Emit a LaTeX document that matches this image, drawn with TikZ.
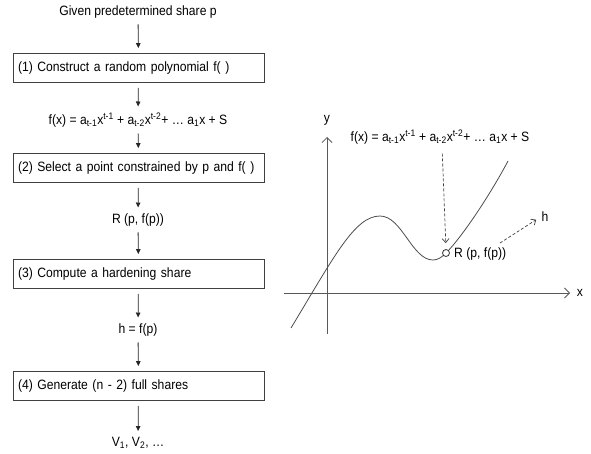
\documentclass[tikz,border=0pt]{standalone}
\usepackage{fontspec}
\setmainfont{Liberation Sans}[FakeStretch=0.9]
\usetikzlibrary{arrows.meta}
\newcommand{\fxtext}{f(x) = a\textsubscript{t-1}x\textsuperscript{t-1} + a\textsubscript{t-2}x\textsuperscript{t-2}+ \dots\ a\textsubscript{1}x + S}
\begin{document}
\begin{tikzpicture}[x=1pt,y=-1pt,font=\fontsize{13.5}{15}\selectfont,
  stepbox/.style={draw=black!75,line width=0.8pt,text width=241pt,inner xsep=5pt,
    minimum height=29pt,align=left},
  txt/.style={inner sep=1pt},
  flow/.style={draw=black!85,line width=0.8pt,shorten <=5pt,shorten >=5pt,
    -{Triangle[length=5pt,width=4.5pt]}},
  hint/.style={draw=black!75,line width=0.7pt,dash pattern=on 3pt off 2pt,
    -{Straight Barb[length=4pt,width=7pt]}},
  axis/.style={draw=black!65,line width=0.8pt,-{Straight Barb[length=5pt,width=10pt]}}]
  \useasboundingbox (0,0) rectangle (591,453);
  \node[txt] (given) at (138,12) {Given predetermined share p};
  \foreach \y/\n/\t in {68/box1/{(1) Construct a random polynomial f( )},
      168/box2/{(2) Select a point constrained by p and f( )},
      274/box3/{(3) Compute a hardening share},
      386/box4/{(4) Generate (n - 2) full shares}}
    \node[stepbox] (\n) at (138.5,\y) {\t};
  \node[txt] (fxl) at (138,120) {\fxtext};
  \node[txt] (Rl) at (138,220) {R (p, f(p))};
  \node[txt] (hl) at (138,330) {h = f(p)};
  \node[txt] (Vl) at (138,443) {V\textsubscript{1}, V\textsubscript{2}, \dots};
  \foreach \a/\b in {given/box1,box1/fxl,fxl/box2,box2/Rl,Rl/box3,box3/hl,hl/box4,box4/Vl}
    \draw[flow] (\a) -- (\b);
  \draw[axis] (327,334) -- (327,137);
  \draw[axis] (284,293) -- (570,293);
  \node[txt] (ylbl) at (327,120) {y};
  \node[txt] (xlbl) at (580,293) {x};
  \node[txt] (fxr) at (440,137) {\fxtext};
  \draw[black!70,line width=0.8pt] (291,328) .. controls (335,255) and (355,216) .. (380,216)
    .. controls (402,216) and (412,260) .. (433,260)
    .. controls (438,260) and (442,257) .. (446,253)
    .. controls (462,237) and (490,195) .. (508,161);
  \node[circle,draw=black!80,line width=0.8pt,fill=white,inner sep=0pt,minimum size=7pt] (ptR) at (446,253) {};
  \node[txt,anchor=west] (Rr) at (453,254) {R (p, f(p))};
  \node[txt] (hr) at (545,217) {h};
  \coordinate (hfrom) at (500,243);
  \draw[hint,shorten <=8pt,shorten >=6pt] ([xshift=2pt]fxr.south) -- (ptR.north);
  \draw[hint,shorten >=5pt] (hfrom) -- (hr.west);
\end{tikzpicture}
\end{document}
